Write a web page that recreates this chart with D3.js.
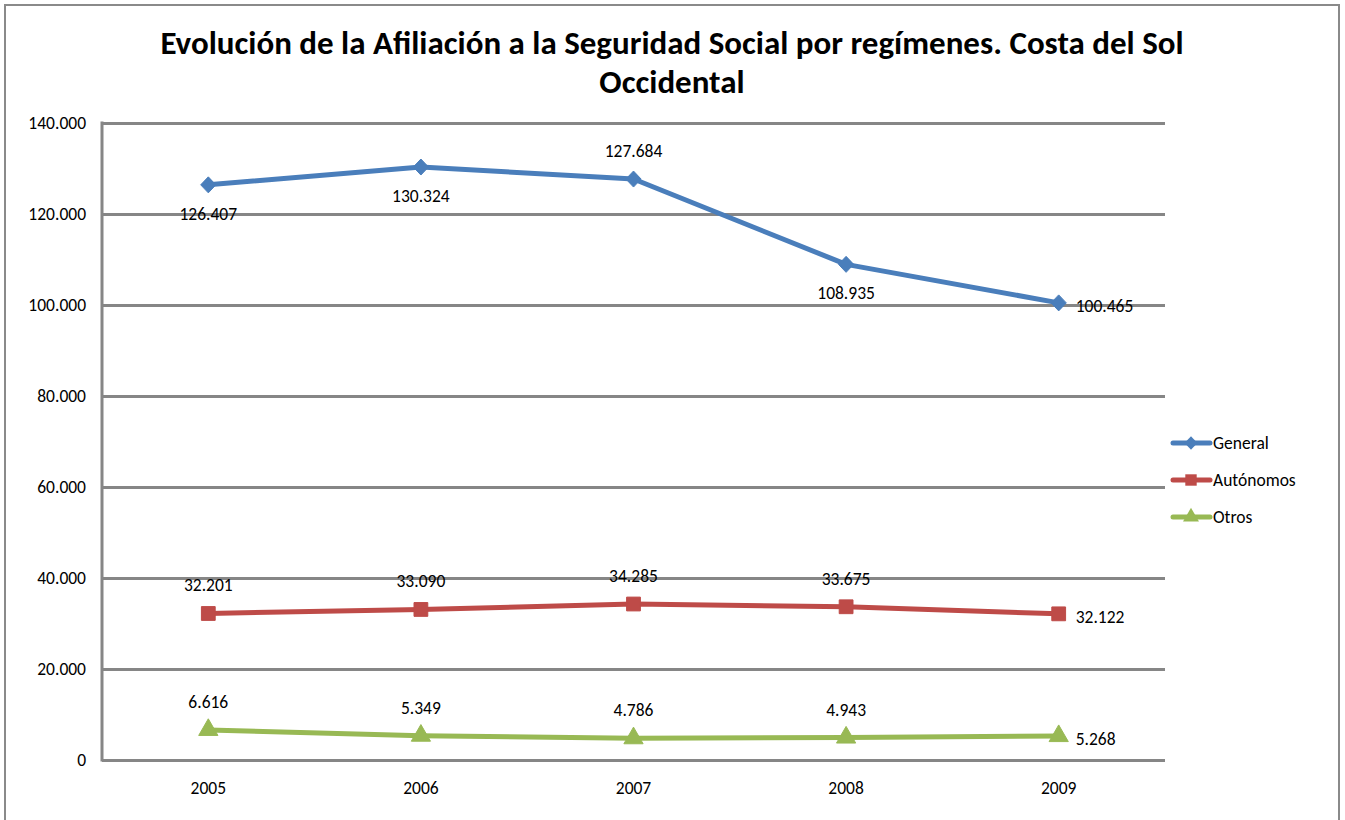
<!DOCTYPE html>
<html><head><meta charset="utf-8">
<script src="https://cdn.jsdelivr.net/npm/d3@7"></script>
<style>
body{margin:0;background:#fff;}
text{font-family:Carlito,Lato,"Open Sans",sans-serif;}
</style></head>
<body>
<svg id="c" width="1345" height="820"></svg>
<script>
const titleLines = ["Evolución de la Afiliación a la Seguridad Social por regímenes. Costa del Sol", "Occidental"];
const years = ["2005","2006","2007","2008","2009"];
const seriesNames = ["General","Autónomos","Otros"];
const general = [126407,130324,127684,108935,100465];
const autonomos = [32201,33090,34285,33675,32122];
const otros = [6616,5349,4786,4943,5268];
const yTicks = [0,20000,40000,60000,80000,100000,120000,140000];
const labelPos = [
  ["below","below","above","below","right"],
  ["above","above","above","above","right"],
  ["above","above","above","above","right"]
];
const colors = ["#4A7EBB","#BE4B48","#98B954"];
const diamond = {draw(ctx,size){const r=Math.sqrt(size/2);ctx.moveTo(0,-r);ctx.lineTo(r*0.95,0);ctx.lineTo(0,r);ctx.lineTo(-r*0.95,0);ctx.closePath();}};
const shapes = [diamond, d3.symbolSquare, d3.symbolTriangle];
const FS = 17.5;

const svg = d3.select("#c");
svg.append("rect").attr("x",5).attr("y",5).attr("width",1334).attr("height",820).attr("fill","#fff").attr("stroke","#8a8a8a").attr("stroke-width",2);

const fmt = v => d3.format(",")(v).replace(/,/g,".");

const x = d3.scaleBand().domain(years).range([102,1165]);
const y = d3.scaleLinear().domain([0,140000]).range([760,123]);

// title
svg.append("g").selectAll("text").data(titleLines).join("text")
  .attr("x",672).attr("y",(d,i)=>54+i*39).attr("text-anchor","middle")
  .attr("font-size",33).attr("font-weight","bold").attr("fill","#000").text(d=>d);

// gridlines
const yAxis = d3.axisLeft(y).tickValues(yTicks).tickFormat(d=>d===0?"0":fmt(d)).tickSize(-(1165-102)).tickPadding(16);
const ga = svg.append("g").attr("transform","translate(102,0)").call(yAxis);
ga.select(".domain").remove();
ga.selectAll(".tick line").attr("stroke","#868686").attr("stroke-width",3);
ga.selectAll(".tick text").attr("font-size",FS).attr("fill","#000").attr("font-family","Carlito,Lato,sans-serif");
svg.append("line").attr("x1",102).attr("x2",102).attr("y1",121.5).attr("y2",761.5).attr("stroke","#868686").attr("stroke-width",3);

const xAxis = d3.axisBottom(x).tickSize(0).tickPadding(22);
const gx = svg.append("g").attr("transform","translate(0,760)").call(xAxis);
gx.select(".domain").remove();
gx.selectAll(".tick text").attr("font-size",FS).attr("fill","#000").attr("font-family","Carlito,Lato,sans-serif");

const data = [general, autonomos, otros];
const cx = d => x(d) + x.bandwidth()/2;
const line = d3.line().x((d,i)=>cx(years[i])).y(d=>y(d));

data.forEach((vals, s) => {
  const g = svg.append("g");
  g.append("path").datum(vals).attr("d",line).attr("fill","none").attr("stroke",colors[s]).attr("stroke-width",5).attr("stroke-linejoin","round");
  g.selectAll("path.m").data(vals).join("path").attr("class","m")
    .attr("transform",(d,i)=>`translate(${cx(years[i])},${y(d)})`)
    .attr("d", d3.symbol().type(shapes[s]).size(s===0?128:(s===1?190:160)))
    .attr("fill",colors[s]).attr("stroke",colors[s]).attr("stroke-width",1).attr("stroke-linejoin","round");
  g.selectAll("text").data(vals).join("text")
    .attr("x",(d,i)=> labelPos[s][i]==="right" ? cx(years[i])+17 : cx(years[i]))
    .attr("y",(d,i)=> {
      const p = labelPos[s][i], py = y(d);
      return p==="above" ? py-22 : (p==="below" ? py+35 : py+9);
    })
    .attr("text-anchor",(d,i)=> labelPos[s][i]==="right" ? "start" : "middle")
    .attr("font-size",FS).attr("fill","#000").text(d=>fmt(d));
});

// legend
const lg = svg.append("g");
seriesNames.forEach((n,i)=>{
  const ly = 443 + i*37;
  lg.append("line").attr("x1",1173).attr("x2",1210).attr("y1",ly).attr("y2",ly).attr("stroke",colors[i]).attr("stroke-width",5).attr("stroke-linecap","round");
  lg.append("path").attr("transform",`translate(1191,${ly})`)
    .attr("d", d3.symbol().type(shapes[i]).size(i===0?90:(i===1?130:110))).attr("fill",colors[i]);
  lg.append("text").attr("x",1213).attr("y",ly+6).attr("font-size",FS).attr("fill","#000").text(n);
});
</script>
</body></html>
